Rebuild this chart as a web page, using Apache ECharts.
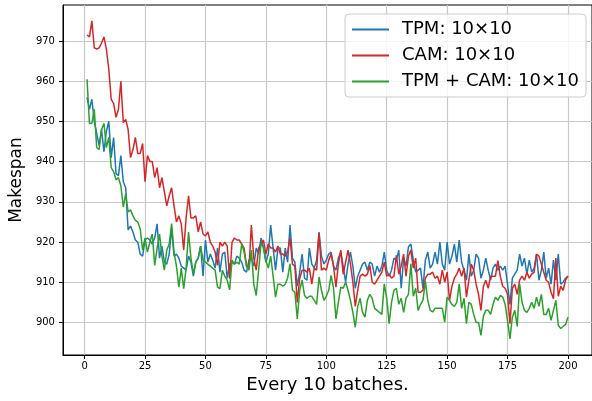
<!DOCTYPE html>
<html>
<head>
<meta charset="utf-8">
<script src="https://cdn.jsdelivr.net/npm/echarts@6/dist/echarts.min.js"></script>
<style>html,body{margin:0;padding:0;background:#fff;}#c{width:592px;height:401px;}</style>
</head>
<body>
<div id="c"></div>
<script>
const seriesNames = ['TPM: 10×10', 'CAM: 10×10', 'TPM + CAM: 10×10'];
const xTicks = [0, 25, 50, 75, 100, 125, 150, 175, 200];
const yTicks = [900, 910, 920, 930, 940, 950, 960, 970];

const tpm = [
956,953,955.5,950,947,944,948,942.5,947.5,950,
941,946,937,936.5,941.5,935,933.5,923,924,922.5,
920.5,920,917,916.5,920.5,921,920.5,919.5,921,924.5,
916,919,915,914.5,917,923.5,916.5,917,916,914,
913.5,913,916.5,915,911.5,915,916,919,911.5,920.5,
915,917,915.5,913.5,918.5,912.5,917,917.5,911,914.5,
915,914.5,916.5,916,915,913,912.5,915.5,916,914,
918.5,917,921,918.5,915,917,924.2,918.5,913,918.5,
918.5,912.5,918.5,915,924.2,916,915,909,912.5,917,
911,910.5,918.5,914.5,913.5,915.5,922.5,916.5,914.5,915.5,
917,917.5,914,913,916,917.5,914,910,914.5,917.5,
914,908.5,911.5,913,914.5,915,913,915,914.5,911.5,
914,912.5,914,917.5,913,911.5,913,916,915.5,918,
908.5,916,914,918.8,919.5,915.5,912.5,913,913.5,908.5,
915.5,917.5,913.5,914.5,917.5,914.5,920,914.5,913,920,
914.5,916.5,919.5,915,920.5,915,913,910.5,917,911.5,
913,917,916,911,913,916,913,910.5,913.5,914.5,
913,914,913,914,909.5,904.5,911,912,913,917,
914,916,912,915.5,912.5,913.5,917,910.5,913,917.5,
911,913.5,909.5,915.5,910.5,917,909.5,910,911,911.5
];

const cam = [
971.5,971,975,968.3,968,968.3,969.5,971,968,963,
955.5,954.5,951,953,960,949.7,950.5,948,941,943,
946,942,942,944.5,935,941.5,940,940,936,938.5,
933.5,936,932.5,929,931.5,933.5,929,925,926.5,924.5,
918,926,931.5,926,926,926.5,922.5,925,922,921.5,
922.5,920,919,917.5,914.2,920,919,920,919,910.9,
920,921,920.5,920.5,919.5,918.5,914,913.5,924.2,916,
913,918.5,919.5,920.5,917,919.5,918.5,918.5,917.5,919,
917,917,916.5,917.5,921,914.5,914,905,911,913,
913,912.5,913.5,909.5,913.5,913,922.2,913,913.5,913,
915.5,917,914,908.8,914.5,918,912,915,918,914.5,
910,904,908,911.5,912,911.5,912,914.2,910,909.5,
910.5,911.5,912.5,915,911.5,912,911,911.5,916.7,912,
914,917,911.5,916.5,918,913.5,916,907.5,907.5,908,
911,912,912,912.5,911,911.5,909.5,913,910,912.5,
905.5,909,911,912,913.5,911.5,913.5,906.3,910.5,914.5,
913,909.5,907,903,909,910.5,908.5,911.5,911.5,911.5,
915.4,911.5,909,908.5,907,899.7,908.5,909.5,907,910.5,
911.5,910.5,912.5,911,912,912.5,917,916.5,914.5,912.5,
910.5,910,907.5,905.9,916,906.5,909,908,910.5,911.5
];

const both = [
960.5,949.5,949.5,953,943.5,943,948,949.5,943.5,946,
938.5,937.5,935.5,936,934,928.7,932,927.5,928,926.5,
925.4,925,923.3,918,921,917.5,920,922,914.2,918.5,
922,916.5,913,918,919.5,924.6,917.5,914,908.8,913.5,
908.4,913.5,922.5,916,912.1,915,916,919,915.5,915,
914.5,914,913.5,913,908.8,908.4,913,911.5,910.5,908.1,
915.5,914.5,915,914.5,919.6,917.5,914,913,918,909.6,
906.7,913,919.6,918.8,915.5,913.5,916.5,911.5,906.3,909.5,
909.5,909,909.5,911,914.6,908,907.5,900.9,908,910.5,
906.7,906,906.5,906.5,905.5,904.5,911.3,908,905.5,906.5,
908,911.7,908.5,900.9,905,908.8,908.5,910,908,905.5,
902.5,898.8,904,906,902.5,901.3,905.5,907,906,903.5,
903,902.5,902,909.6,906,899.7,905,908,908.5,904.5,
906,902.5,906,907,914.6,906.5,908.5,903,904.5,905.5,
910.2,905.5,903,902.6,903.5,903.5,903.5,903.5,900.1,906.3,
905.5,904.5,904,905,909.6,903.5,906,899.7,905,904.5,
902,900,900,896.8,901.5,903,903,902,904.5,906.3,
905.5,906.7,906.3,904.5,900.5,895.9,901.3,903,899,909.6,
905,903,902.5,903.5,905,903.5,906.3,904,907,902,
902,903.5,900.5,903,905.5,899.3,898.5,899,899.5,901.3
];

const colors = ['#1f77b4', '#d62728', '#2ca02c'];
const toPairs = arr => arr.map((v, i) => [i + 1, v]);
const font = 'DejaVu Sans';

const chart = echarts.init(document.getElementById('c'), null, {renderer: 'canvas'});
chart.setOption({
  animation: false,
  backgroundColor: '#ffffff',
  color: colors,
  grid: {
    left: 61, top: 5, width: 533, height: 350,
    show: true, borderColor: '#000000', borderWidth: 1, backgroundColor: 'transparent'
  },
  legend: {
    orient: 'vertical',
    left: 345, top: 14,
    padding: [6, 7, 6, 7],
    backgroundColor: 'rgba(255,255,255,0.8)',
    borderColor: '#cccccc', borderWidth: 1, borderRadius: 4,
    icon: 'rect', itemWidth: 37, itemHeight: 2, itemGap: 7,
    textStyle: {fontFamily: font, fontSize: 18, color: '#000', lineHeight: 19, padding: [0, 0, 0, 8]},
    data: seriesNames
  },
  xAxis: {
    type: 'value', min: -8.95, max: 209.95,
    name: 'Every 10 batches.', nameLocation: 'middle', nameGap: 20,
    nameTextStyle: {fontFamily: font, fontSize: 18, color: '#000'},
    axisLine: {show: true, onZero: false, lineStyle: {color: '#000', width: 1}},
    axisTick: {show: true, inside: false, length: 4, customValues: xTicks, lineStyle: {color: '#000', width: 1}},
    axisLabel: {customValues: xTicks, fontFamily: font, fontSize: 10, color: '#000', margin: 6},
    splitLine: {show: true, lineStyle: {color: '#c8c8c8', width: 1.2}}
  },
  yAxis: {
    type: 'value', min: 891.9, max: 978.95,
    name: 'Makespan', nameLocation: 'middle', nameGap: 26, nameRotate: 90,
    nameTextStyle: {fontFamily: font, fontSize: 17, color: '#000'},
    axisLine: {show: true, onZero: false, lineStyle: {color: '#000', width: 1}},
    axisTick: {show: true, inside: false, length: 4, customValues: yTicks, lineStyle: {color: '#000', width: 1}},
    axisLabel: {customValues: yTicks, fontFamily: font, fontSize: 10, color: '#000', margin: 8},
    splitLine: {show: true, lineStyle: {color: '#c8c8c8', width: 1.2}}
  },
  series: [
    {name: seriesNames[0], type: 'line', data: toPairs(tpm), symbol: 'none', lineStyle: {width: 1.5}, z: 2},
    {name: seriesNames[1], type: 'line', data: toPairs(cam), symbol: 'none', lineStyle: {width: 1.5}, z: 3},
    {name: seriesNames[2], type: 'line', data: toPairs(both), symbol: 'none', lineStyle: {width: 1.5}, z: 4}
  ]
});
</script>
</body>
</html>
